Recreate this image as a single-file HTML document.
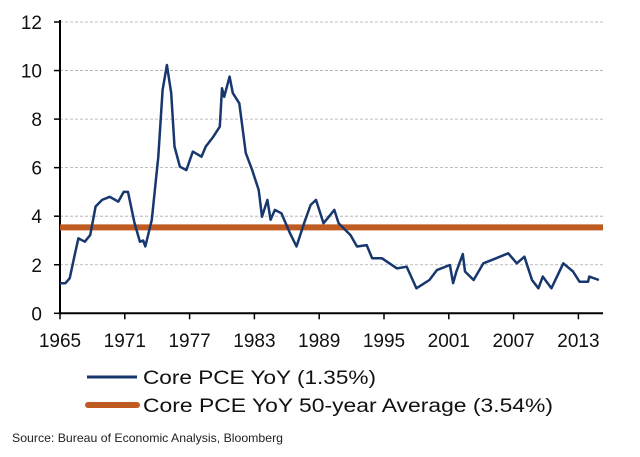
<!DOCTYPE html>
<html><head><meta charset="utf-8"><style>
html,body{margin:0;padding:0;background:#fff;}
svg{display:block;font-family:"Liberation Sans",Arial,sans-serif;}
</style></head><body>
<svg id="chart" width="640" height="457" viewBox="0 0 640 457" xmlns="http://www.w3.org/2000/svg">
<g id="grid"></g>
<g id="yaxis"></g>
<g id="xaxis"></g>
<g id="series"></g>
<g>
  <line x1="87" y1="377" x2="137" y2="377" stroke="#17376e" stroke-width="3"/>
  <text x="143" y="384" font-size="19" fill="#111" textLength="233" lengthAdjust="spacingAndGlyphs">Core PCE YoY (1.35%)</text>
  <line x1="88" y1="405" x2="137" y2="405" stroke="#bf5a20" stroke-width="6" stroke-linecap="round"/>
  <text x="143" y="412" font-size="19" fill="#111" textLength="410" lengthAdjust="spacingAndGlyphs">Core PCE YoY 50-year Average (3.54%)</text>
</g>
<text x="12" y="442" font-size="12" fill="#222" textLength="271" lengthAdjust="spacingAndGlyphs">Source: Bureau of Economic Analysis, Bloomberg</text>
</svg>
<script>
const years=[1965.0,1965.5,1965.9,1966.4,1966.7,1967.3,1967.8,1968.3,1968.9,1969.6,1970.4,1970.9,1971.3,1971.9,1972.4,1972.7,1972.9,1973.5,1974.1,1974.5,1974.9,1975.3,1975.6,1976.1,1976.7,1977.3,1978.1,1978.5,1979.2,1979.8,1980.0,1980.2,1980.7,1981.0,1981.6,1982.2,1982.8,1983.4,1983.7,1984.2,1984.5,1984.9,1985.5,1986.3,1986.9,1987.6,1988.2,1988.7,1989.4,1989.9,1990.4,1990.8,1991.9,1992.5,1993.4,1993.9,1994.8,1996.2,1997.1,1998.0,1999.2,1999.9,2001.1,2001.4,2001.7,2002.3,2002.5,2003.3,2004.2,2005.4,2006.5,2007.3,2008.0,2008.7,2009.3,2009.7,2010.5,2011.6,2012.5,2013.1,2013.9,2014.0,2014.9];
const corePce=[1.24,1.24,1.44,2.48,3.09,2.95,3.22,4.4,4.67,4.8,4.6,5.0,5.0,3.72,2.95,3.0,2.75,3.85,6.45,9.2,10.23,9.07,6.87,6.04,5.9,6.66,6.45,6.87,7.28,7.69,9.27,8.92,9.75,9.07,8.65,6.6,5.9,5.08,3.98,4.67,3.85,4.26,4.12,3.3,2.75,3.71,4.46,4.67,3.71,3.98,4.26,3.71,3.22,2.75,2.81,2.27,2.27,1.85,1.92,1.03,1.37,1.78,1.99,1.24,1.72,2.44,1.72,1.37,2.06,2.27,2.47,2.06,2.33,1.37,1.03,1.51,1.03,2.06,1.72,1.30,1.30,1.51,1.37];
const average=[3.54];
const yTicks=[0,2,4,6,8,10,12];
const xTicks=[1965,1971,1977,1983,1989,1995,2001,2007,2013];
const NS="http://www.w3.org/2000/svg";
const X0=60,X1=603,Y0=313.3,Y1=22;
const xs=y=>X0+(y-1965)*(64.8/6);
const ys=v=>Y0-(v-0)*(Y0-Y1)/12;
function mk(tag,attrs,parent){const e=document.createElementNS(NS,tag);for(const k in attrs)e.setAttribute(k,attrs[k]);parent.appendChild(e);return e;}
const grid=document.getElementById('grid'),ya=document.getElementById('yaxis'),xa=document.getElementById('xaxis'),ser=document.getElementById('series');
yTicks.forEach(t=>{
  const y=ys(t);
  if(t>0){const g=mk('line',{x1:X0,x2:X1,y1:y,y2:y,stroke:'#aaa','stroke-width':0.8,'stroke-dasharray':'3,2'},grid);
  
  }
  const tk=mk('line',{x1:X0-6,x2:X0,y1:y,y2:y,stroke:'#000','stroke-width':1.5},ya);
  
  
  const tx=mk('text',{x:42,y:y+7,'font-size':19,'text-anchor':'end',fill:'#111'},ya);
  tx.textContent=t;
  
  
});
xTicks.forEach(t=>{
  const x=xs(t);
  const tk=mk('line',{x1:x,x2:x,y1:Y0,y2:Y0+6,stroke:'#000','stroke-width':1.5},xa);
  
  
  const tx=mk('text',{x:x,y:347,'font-size':19,'text-anchor':'middle',fill:'#111'},xa);
  tx.textContent=t;
  
  
});
const yl=mk('line',{x1:X0,x2:X0,y1:Y1-2,y2:Y0+1,stroke:'#000','stroke-width':2},ya);


const xl=mk('line',{x1:X0-1,x2:X1,y1:Y0,y2:Y0,stroke:'#000','stroke-width':2},xa);


const av=mk('line',{x1:X0,x2:X1,y1:ys(average[0]),y2:ys(average[0]),stroke:'#bf5a20','stroke-width':6},ser);


const pl=mk('polyline',{points:years.map((y,i)=>xs(y).toFixed(1)+','+ys(corePce[i]).toFixed(1)).join(' '),fill:'none',stroke:'#17376e','stroke-width':2.5,'stroke-linejoin':'round'},ser);


</script>
</body></html>
